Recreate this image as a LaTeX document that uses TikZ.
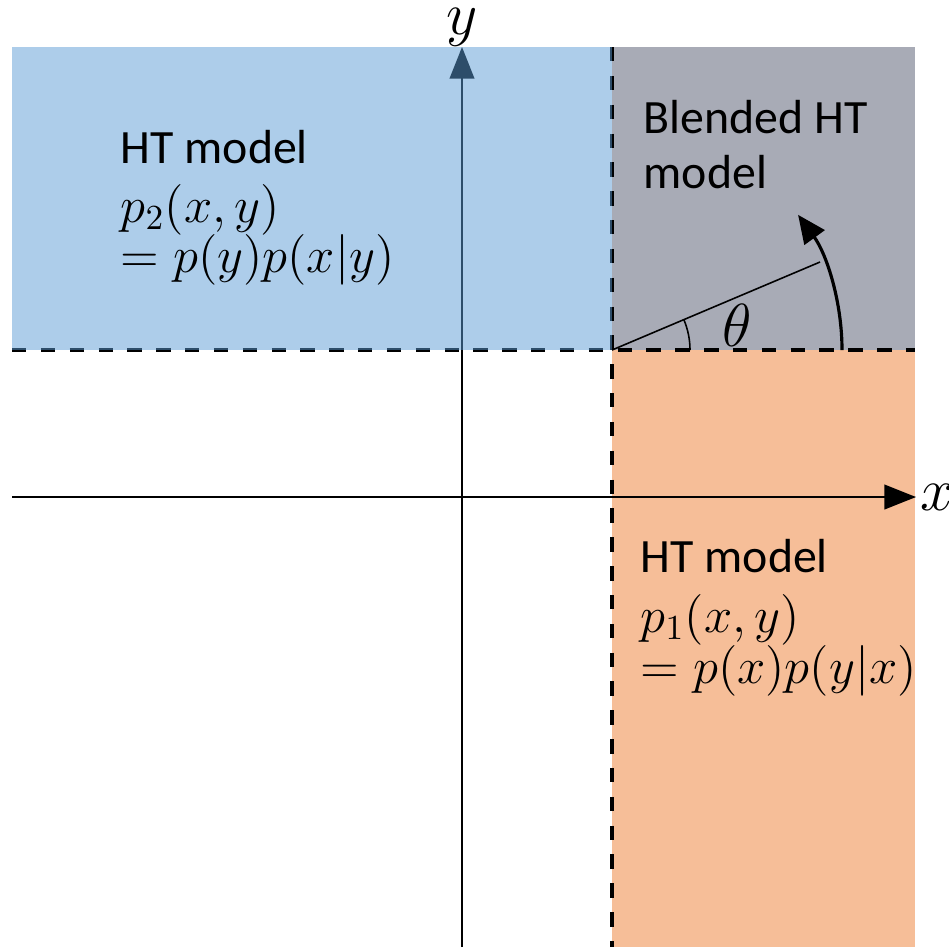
\documentclass[tikz,border=0pt]{standalone}
\usepackage{fontspec}
\setmainfont{Carlito}
\usepackage{amsmath}
\usetikzlibrary{arrows.meta}
\definecolor{regblue}{HTML}{5B9BD5}
\definecolor{regorange}{HTML}{F6BE98}
\definecolor{reggray}{HTML}{A8ABB6}

\begin{document}
\begin{tikzpicture}[
    x=0.01cm, y=-0.01cm,
    axis/.style={line width=0.6pt, -{Triangle[length=9pt,width=7pt]}},
    border/.style={line width=1.35pt, dash pattern=on 4.1pt off 4.1pt},
    label/.style={anchor=base west, inner sep=0pt, font=\fontsize{13.6}{16}\selectfont}
  ]
  \useasboundingbox (0,0) rectangle (949,947);
  % regions
  \fill[regorange] (612,350) rectangle (915,947);
  \fill[reggray] (612,47) rectangle (915,350);

  \coordinate (O)  at (612,350);
  \coordinate (xL) at (12,497);
  \coordinate (xR) at (916,497);
  \coordinate (yB) at (462,947);
  \coordinate (yT) at (462,47);

  \draw[axis] (xL) -- (xR);
  \draw[axis] (yB) -- (yT);
  \node[inner sep=0pt] (xlab) at (937,497) {\fontsize{17}{20}\selectfont$x$};
  \node[inner sep=0pt, anchor=base] (ylab) at (462,34) {\fontsize{16}{19}\selectfont$y$};

  \draw[border] (12,350) -- (O) -- (915,350);
  \draw[border] (612,47) -- (O) -- (612,947);

  \fill[regblue, fill opacity=0.5] (12,47) rectangle (612,350);

  % angle
  \coordinate (R) at (820,262);
  \draw[line width=0.45pt] (O) -- (R);
  \draw[line width=0.45pt] (690,350) arc[start angle=0, end angle=-23, radius=78];
  \node (theta) at (737,325) {\fontsize{17}{20}\selectfont$\theta$};
  \draw[line width=0.9pt, -{Triangle[length=8pt,width=7pt]}] (842,350) arc[start angle=0, end angle=-36, radius=230];

  % texts
  \node[label] (ht2)  at (120,163) {HT model};
  \node[label] (p2)   at (120,222) {$p_2(x,y)$};
  \node[label] (eq2)  at (120,272) {$=p(y)p(x|y)$};
  \node[label] (blend) at (643,133) {Blended HT};
  \node[label] (blend2) at (643,188) {model};
  \node[label] (ht1)  at (640,572) {HT model};
  \node[label] (p1)   at (640,632) {$p_1(x,y)$};
  \node[label] (eq1)  at (640,683) {$=p(x)p(y|x)$};
\end{tikzpicture}
\end{document}
